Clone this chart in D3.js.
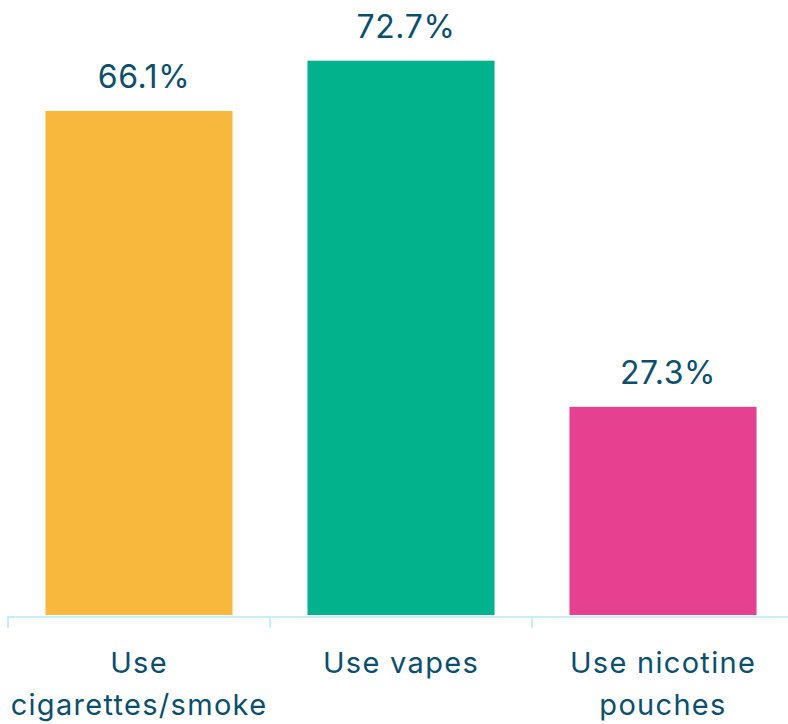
<!DOCTYPE html>
<html>
<head>
<meta charset="utf-8">
<script src="https://cdn.jsdelivr.net/npm/d3@7"></script>
<style>
  body { margin: 0; background: #fff; }
  text { font-family: 'Inter', 'Open Sans', sans-serif; }
</style>
</head>
<body>
<script>
const w = 788;
const h = 724;

// chart data
const categories = ['Use cigarettes/smoke', 'Use vapes', 'Use nicotine pouches'];
const labelLines = [['Use', 'cigarettes/smoke'], ['Use vapes'], ['Use nicotine', 'pouches']];
const values = [66.1, 72.7, 27.3];
const colors = ['#F8B83E', '#02B28D', '#E64190'];

const svg = d3.select('body')
  .append('svg')
  .attr('width', w)
  .attr('height', h);

const x = d3.scaleBand()
  .domain(categories)
  .range([8, 794])
  .paddingInner(0.286)
  .paddingOuter(0.143);

const y = d3.scaleLinear()
  .domain([0, 80])
  .range([615, 5]);

// bars
svg.selectAll('rect.bar')
  .data(values)
  .enter()
  .append('rect')
  .attr('class', 'bar')
  .attr('x', (d, i) => x(categories[i]))
  .attr('y', d => y(d))
  .attr('width', x.bandwidth())
  .attr('height', d => y(0) - y(d))
  .attr('fill', (d, i) => colors[i]);

// value labels
svg.selectAll('text.val')
  .data(values)
  .enter()
  .append('text')
  .attr('class', 'val')
  .text(d => d.toFixed(1) + '%')
  .attr('x', (d, i) => x(categories[i]) + x.bandwidth() / 2 + 5)
  .attr('y', d => y(d) - 23)
  .attr('text-anchor', 'middle')
  .style('font-size', '32px')
  .style('letter-spacing', '0.6px')
  .style('fill', '#0B4F6C');

// axis line + ticks at band starts
const axisColor = '#C9EEFB';
svg.append('line')
  .attr('x1', 8).attr('x2', w)
  .attr('y1', 617).attr('y2', 617)
  .attr('stroke', axisColor).attr('stroke-width', 2);

svg.selectAll('line.tick')
  .data(categories)
  .enter()
  .append('line')
  .attr('class', 'tick')
  .attr('x1', d => x(d) - x.step() * 0.143)
  .attr('x2', d => x(d) - x.step() * 0.143)
  .attr('y1', 616).attr('y2', 628)
  .attr('stroke', axisColor).attr('stroke-width', 2);

// category labels
const labels = svg.selectAll('text.cat')
  .data(categories)
  .enter()
  .append('text')
  .attr('class', 'cat')
  .attr('x', d => x(d) + x.bandwidth() / 2)
  .attr('y', 673)
  .attr('text-anchor', 'middle')
  .style('font-size', '29px')
  .style('letter-spacing', '1.3px')
  .style('fill', '#0B4F6C');

labels.selectAll('tspan')
  .data((d, i) => labelLines[i])
  .enter()
  .append('tspan')
  .attr('x', function() { return d3.select(this.parentNode).attr('x'); })
  .attr('dy', (d, j) => j === 0 ? 0 : 42)
  .text(d => d);
</script>
</body>
</html>
